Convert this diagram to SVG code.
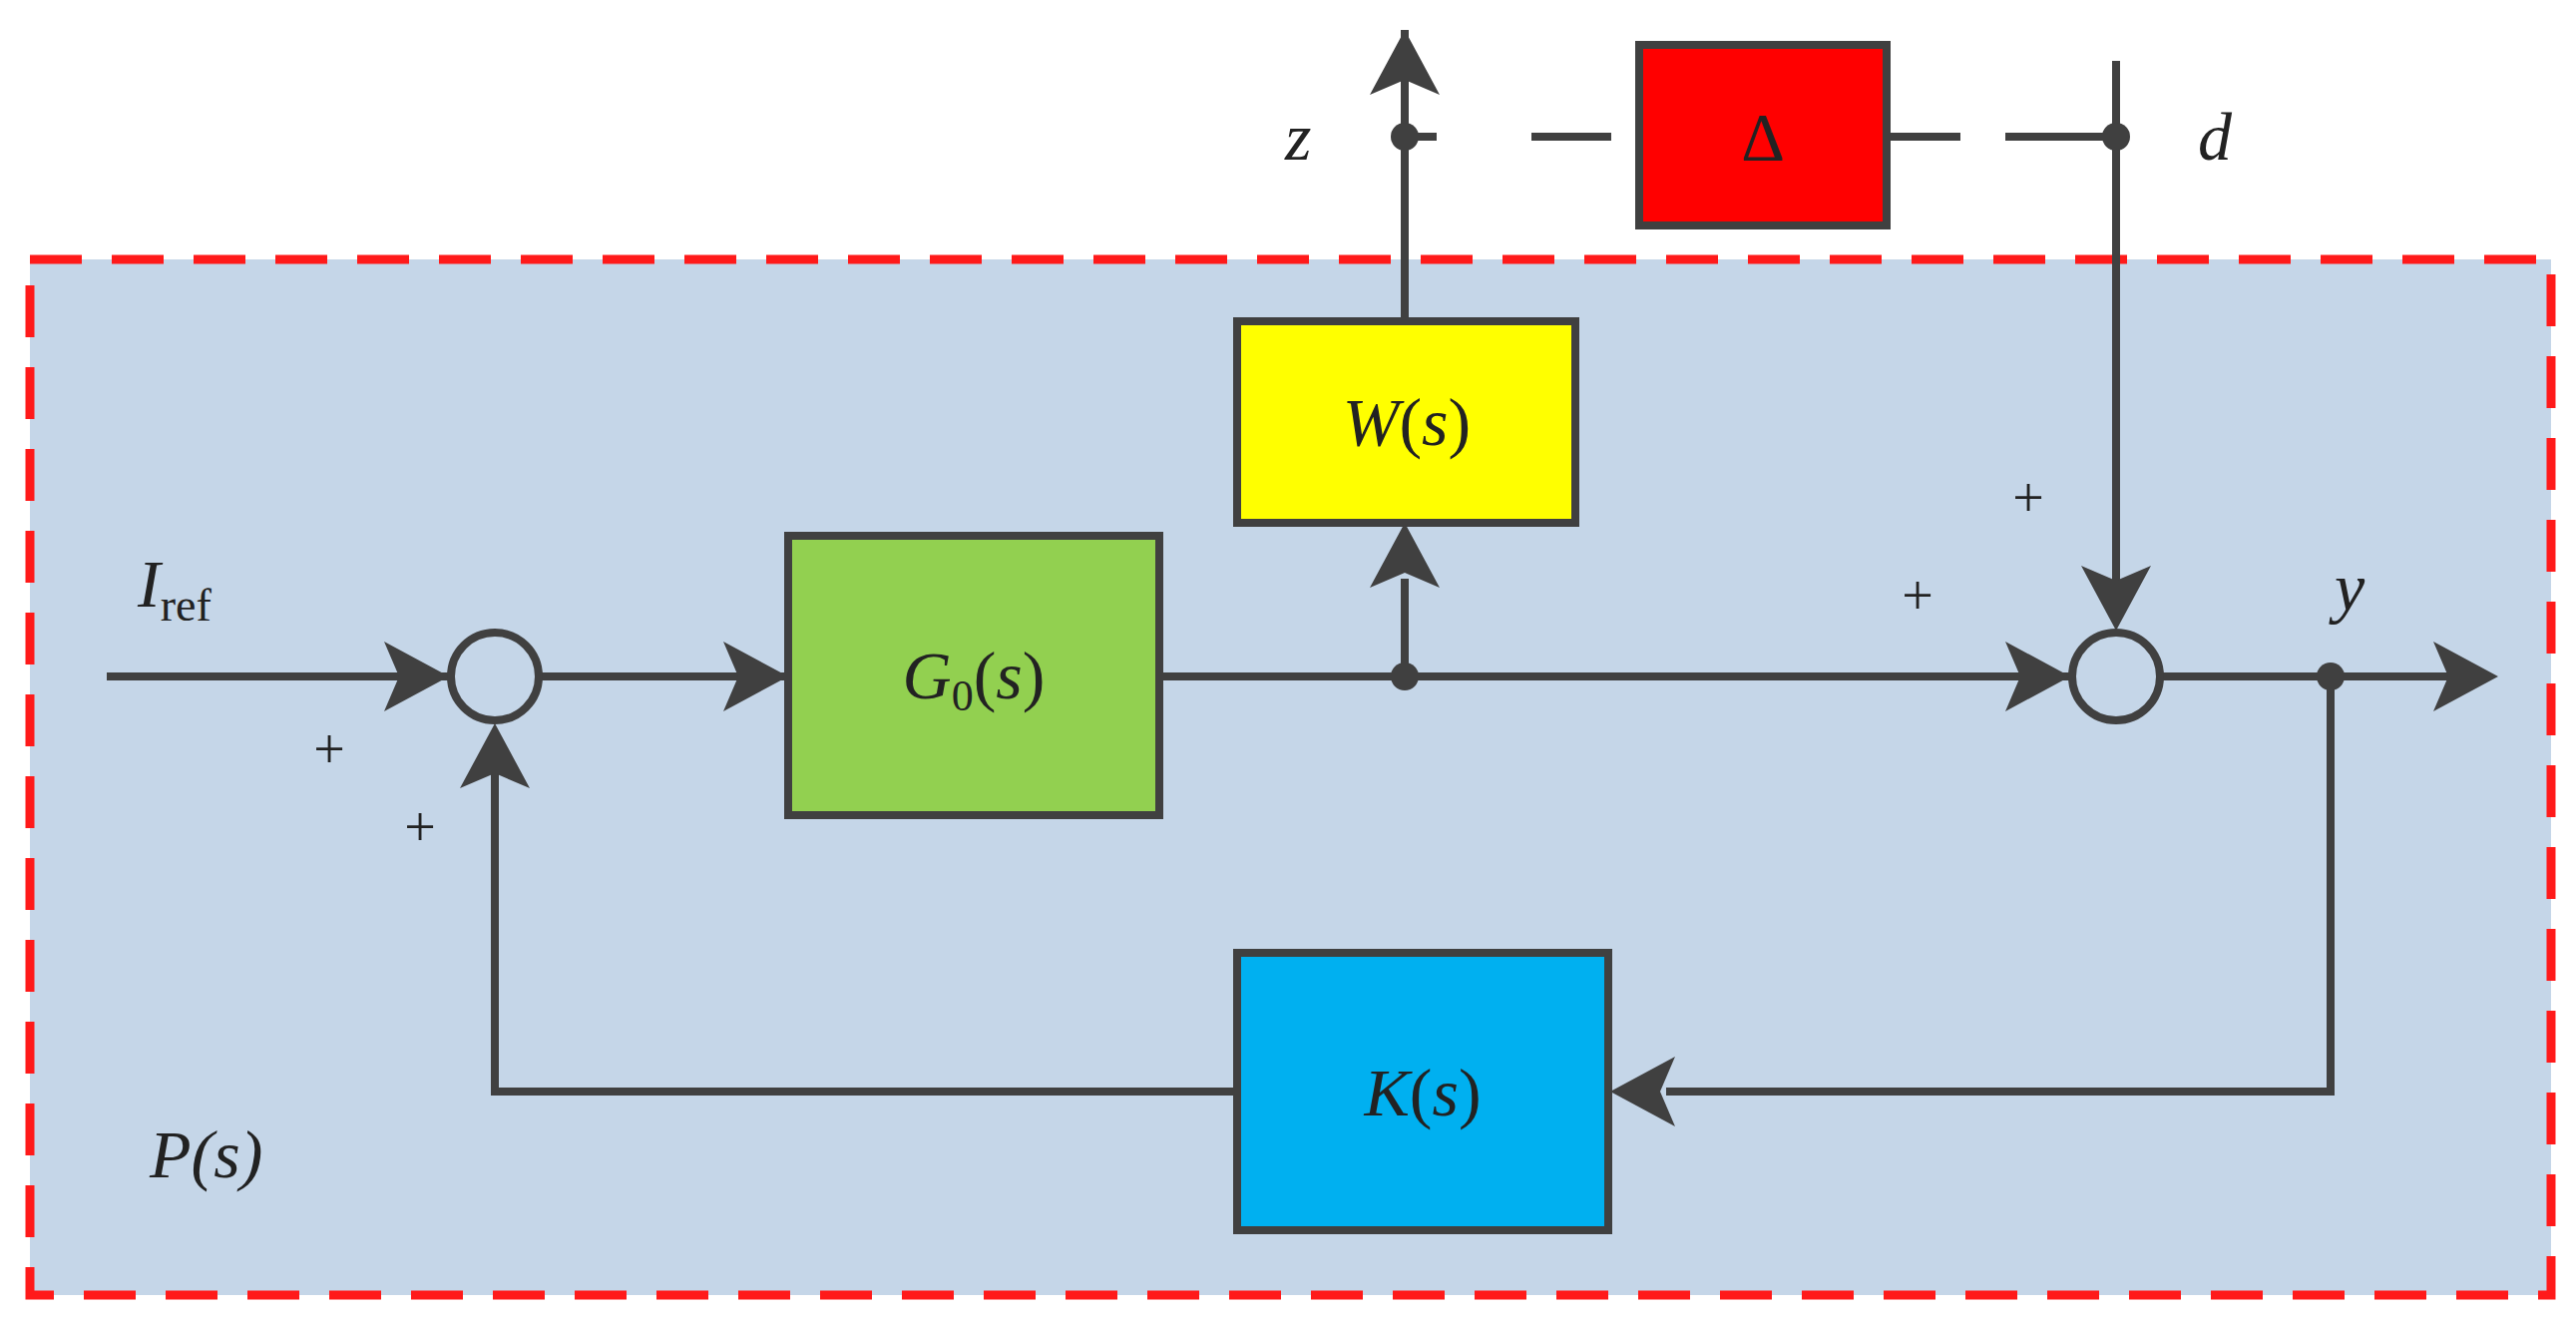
<svg xmlns="http://www.w3.org/2000/svg" width="2582" height="1328" viewBox="0 0 2582 1328">
<style>
.ln{stroke:#404040;stroke-width:8;fill:none}
.bx{stroke:#404040;stroke-width:8}
.t{font-family:"Liberation Serif",serif;font-style:italic;font-size:68px;fill:#222}
.p{font-family:"Liberation Serif",serif;font-size:56px;fill:#222}
.ah{fill:#404040}
</style>
<rect width="2582" height="1328" fill="#fff"/>
<g id="Ps"><rect x="30" y="260" width="2527" height="1038" fill="#c5d6e8" stroke="#ff1a1a" stroke-width="9" stroke-dasharray="52,30"/>
<text class="t" x="150" y="1180">P(s)</text></g>
<g id="connectors">
<path class="ln" d="M107 678H450M542 678H790M1162 678H2075M2167 678H2460M1408 678V580M1408 322V30M2121 61V622M2336 678V1094H1670M1240 1094H496V770"/>
<path class="ln" d="M1408 137H1440M1535 137H1615M1891 137H1965M2010 137H2121"/>
<polygon class="ah" points="450,678 385,643 400,678 385,713"/>
<polygon class="ah" points="790,678 725,643 740,678 725,713"/>
<polygon class="ah" points="2075,678 2010,643 2025,678 2010,713"/>
<polygon class="ah" points="2504,678 2439,643 2454,678 2439,713"/>
<polygon class="ah" points="1408,524 1373,589 1408,574 1443,589"/>
<polygon class="ah" points="1408,30 1373,95 1408,80 1443,95"/>
<polygon class="ah" points="2121,632 2086,567 2121,582 2156,567"/>
<polygon class="ah" points="496,725 461,790 496,775 531,790"/>
<polygon class="ah" points="1614,1094 1679,1059 1664,1094 1679,1129"/>
<circle cx="1408" cy="678" r="14" class="ah"/>
<circle cx="1408" cy="137" r="14" class="ah"/>
<circle cx="2121" cy="137" r="14" class="ah"/>
<circle cx="2336" cy="678" r="14" class="ah"/>
</g>
<g id="sum1"><circle cx="496" cy="678" r="44" fill="none" class="bx"/></g>
<g id="sum2"><circle cx="2121" cy="678" r="44" fill="none" class="bx"/></g>
<g id="G0"><rect class="bx" x="790" y="537" width="372" height="280" fill="#92d050"/>
<text class="t" x="976" y="700" text-anchor="middle">G<tspan font-size="44" font-style="normal" dy="12">0</tspan><tspan dy="-12" font-style="normal">(</tspan>s<tspan font-style="normal">)</tspan></text></g>
<g id="W"><rect class="bx" x="1240" y="322" width="339" height="202" fill="#ffff00"/>
<text class="t" x="1410" y="446" text-anchor="middle">W<tspan font-style="normal">(</tspan>s<tspan font-style="normal">)</tspan></text></g>
<g id="K"><rect class="bx" x="1240" y="955" width="372" height="278" fill="#00b0f0"/>
<text class="t" x="1426" y="1118" text-anchor="middle">K<tspan font-style="normal">(</tspan>s<tspan font-style="normal">)</tspan></text></g>
<g id="Delta"><rect class="bx" x="1643" y="45" width="248" height="181" fill="#ff0000"/>
<text x="1767" y="160" text-anchor="middle" font-family="Liberation Serif,serif" font-size="68" fill="#222">Δ</text></g>
<g id="labels">
<text class="t" x="1288" y="160">z</text>
<text class="t" x="2203" y="160">d</text>
<text class="t" x="2340" y="612">y</text>
<text class="t" x="138" y="608">I<tspan font-size="46" font-style="normal" dy="14">ref</tspan></text>
<text class="p" x="330" y="770" text-anchor="middle">+</text>
<text class="p" x="421" y="848" text-anchor="middle">+</text>
<text class="p" x="2033" y="518" text-anchor="middle">+</text>
<text class="p" x="1922" y="616" text-anchor="middle">+</text>
</g>
</svg>
